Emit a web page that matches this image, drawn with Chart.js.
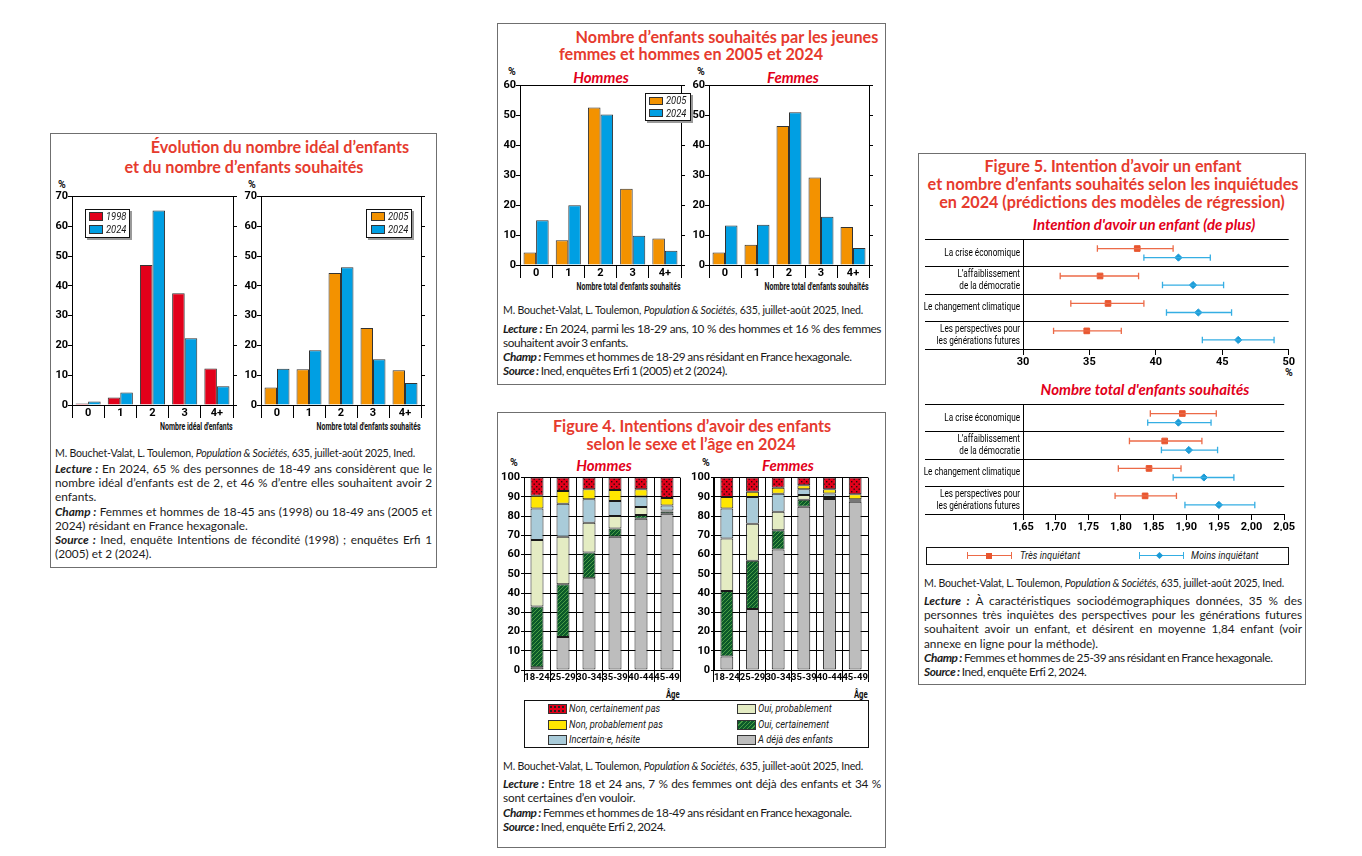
<!DOCTYPE html>
<html lang="fr">
<head>
<meta charset="utf-8">
<title>Enfants souhaités et intentions de fécondité</title>
<script src="https://cdn.jsdelivr.net/npm/chart.js@4.4.1/dist/chart.umd.min.js"></script>
<style>
body{margin:0;background:#fff;width:1362px;height:856px;position:relative;overflow:hidden;font-family:Lato,Roboto,sans-serif;color:#1a1a1a}
.panel{position:absolute;border:1px solid #6f6f6f;box-sizing:border-box}
.line{position:absolute;white-space:nowrap;text-align:center;width:440px;line-height:18px}
.title{color:#e63b2e;font-weight:bold;font-size:16.2px}
.sub{color:#e2001a;font-weight:bold;font-style:italic;font-size:15px}
.cond{font-family:Roboto,sans-serif}
.lbl{position:absolute;white-space:nowrap;font-weight:bold;font-size:10.5px;line-height:12px;color:#111}
.narrow{font-size:10px;transform:scaleX(0.7);transform-origin:right center}
canvas{position:absolute}
.txt{position:absolute;font-size:11.8px;line-height:14.2px;text-align:justify}
.txt p{margin:0}
.txt .tight{letter-spacing:-0.4px;word-spacing:-0.5px}
.txt .semi{letter-spacing:-0.2px}
.txt .cite{font-size:10.6px;line-height:14px;text-align:left;letter-spacing:-0.2px}
.txt b{font-style:italic}
.leg{position:absolute;border:1.3px solid #111;background:#fff;box-shadow:2px 2px 0 #9a9a9a;box-sizing:border-box}
.sw{position:absolute;border:1px solid #333;box-sizing:border-box}
.lt{position:absolute;white-space:nowrap;font-style:italic;font-size:11px;line-height:12px}
.lt2{transform:scaleX(0.85);transform-origin:left center}
</style>
</head>
<body>

<!-- panneau 1 -->
<div class="panel" style="left:50px;top:133px;width:387px;height:435px"></div>
<div class="line title" style="left:60px;top:138px">Évolution du nombre idéal d’enfants</div>
<div class="line title" style="left:24px;top:158px">et du nombre d’enfants souhaités</div>
<div class="lbl cond" style="left:58px;top:179px">%</div>
<div class="lbl cond" style="left:248px;top:179px">%</div>
<canvas id="ideal" width="188" height="230" style="left:52px;top:190px"></canvas>
<canvas id="souhait" width="188" height="230" style="left:241px;top:190px"></canvas>
<div class="lbl cond narrow" style="right:1129px;top:421px">Nombre idéal d'enfants</div>
<div class="lbl cond narrow" style="right:941px;top:421px">Nombre total d'enfants souhaités</div>
<div class="leg" style="left:85px;top:209px;width:45px;height:29px">
  <div class="sw" style="left:3px;top:2px;width:14px;height:9px;background:#e2001a"></div>
  <div class="lt lt2 cond" style="left:20px;top:1px">1998</div>
  <div class="sw" style="left:3px;top:15px;width:14px;height:9px;background:#009fe3"></div>
  <div class="lt lt2 cond" style="left:20px;top:14px">2024</div>
</div>
<div class="leg" style="left:366px;top:209px;width:46px;height:29px">
  <div class="sw" style="left:4px;top:2px;width:14px;height:9px;background:#f39200"></div>
  <div class="lt lt2 cond" style="left:21px;top:1px">2005</div>
  <div class="sw" style="left:4px;top:15px;width:14px;height:9px;background:#009fe3"></div>
  <div class="lt lt2 cond" style="left:21px;top:14px">2024</div>
</div>
<div class="txt" style="left:55px;top:446px;width:377px">
  <p class="cite" style="margin-bottom:2px">M. Bouchet-Valat, L. Toulemon, <i>Population &amp; Sociétés</i>, 635, juillet-août 2025, Ined.</p>
  <p><b>Lecture :</b> En 2024, 65&nbsp;% des personnes de 18-49 ans considèrent que le nombre idéal d’enfants est de 2, et 46&nbsp;% d’entre elles souhaitent avoir 2 enfants.</p>
  <p><b>Champ :</b> Femmes et hommes de 18-45 ans (1998) ou 18-49 ans (2005 et 2024) résidant en France hexagonale.</p>
  <p><b>Source :</b> Ined, enquête Intentions de fécondité (1998) ; enquêtes Erfi 1 (2005) et 2 (2024).</p>
</div>

<!-- panneau 2 -->
<div class="panel" style="left:497px;top:23px;width:389px;height:362px"></div>
<div class="line title" style="left:507px;top:28px">Nombre d’enfants souhaités par les jeunes</div>
<div class="line title" style="left:471px;top:45px">femmes et hommes en 2005 et 2024</div>
<div class="line sub" style="left:381px;top:68px">Hommes</div>
<div class="line sub" style="left:573px;top:68px">Femmes</div>
<div class="lbl cond" style="left:508px;top:66px">%</div>
<div class="lbl cond" style="left:697px;top:66px">%</div>
<canvas id="hommes" width="188" height="201" style="left:500px;top:79px"></canvas>
<canvas id="femmes" width="188" height="201" style="left:689px;top:79px"></canvas>
<div class="lbl cond narrow" style="right:681px;top:281px">Nombre total d'enfants souhaités</div>
<div class="lbl cond narrow" style="right:493px;top:281px">Nombre total d'enfants souhaités</div>
<div class="leg" style="left:645px;top:93px;width:46px;height:28px">
  <div class="sw" style="left:3px;top:3px;width:14px;height:8px;background:#f39200"></div>
  <div class="lt lt2 cond" style="left:20px;top:1px">2005</div>
  <div class="sw" style="left:3px;top:15px;width:14px;height:8px;background:#009fe3"></div>
  <div class="lt lt2 cond" style="left:20px;top:14px">2024</div>
</div>
<div class="txt" style="left:503px;top:303px;width:378px;line-height:14px">
  <p class="cite" style="margin-bottom:5px">M. Bouchet-Valat, L. Toulemon, <i>Population &amp; Sociétés</i>, 635, juillet-août 2025, Ined.</p>
  <p class="tight"><b>Lecture :</b> En 2024, parmi les 18-29 ans, 10&nbsp;% des hommes et 16&nbsp;% des femmes souhaitent avoir 3 enfants.</p>
  <p class="tight"><b>Champ :</b> Femmes et hommes de 18-29 ans résidant en France hexagonale.</p>
  <p class="tight"><b>Source :</b> Ined, enquêtes Erfi 1 (2005) et 2 (2024).</p>
</div>

<!-- panneau 3 -->
<div class="panel" style="left:497px;top:412px;width:389px;height:436px"></div>
<div class="line title" style="left:472px;top:417px">Figure 4. Intentions d’avoir des enfants</div>
<div class="line title" style="left:471px;top:435px">selon le sexe et l’âge en 2024</div>
<div class="line sub" style="left:384px;top:456px">Hommes</div>
<div class="line sub" style="left:568px;top:456px">Femmes</div>
<div class="lbl cond" style="left:510px;top:457px">%</div>
<div class="lbl cond" style="left:702px;top:457px">%</div>
<canvas id="f4hommes" width="186" height="214" style="left:500px;top:470px"></canvas>
<canvas id="f4femmes" width="184" height="214" style="left:690px;top:470px"></canvas>
<div class="lbl cond narrow" style="right:682px;top:689px;font-size:11px">Âge</div>
<div class="lbl cond narrow" style="right:494px;top:689px;font-size:11px">Âge</div>
<div style="position:absolute;left:524px;top:700px;width:345px;height:48px;border:1.3px solid #111;box-sizing:border-box"></div>
<div class="sw" style="left:548px;top:704px;width:19px;height:10px;background:#e2001a radial-gradient(circle,#222 0.9px,transparent 1.3px) 0 0/4px 4px"></div>
<div class="lt lt2 cond" style="left:569px;top:703px">Non, certainement pas</div>
<div class="sw" style="left:548px;top:720px;width:19px;height:10px;background:#ffe600"></div>
<div class="lt lt2 cond" style="left:569px;top:719px">Non, probablement pas</div>
<div class="sw" style="left:548px;top:735px;width:19px;height:10px;background:#a9cbd9"></div>
<div class="lt lt2 cond" style="left:569px;top:734px">Incertain·e, hésite</div>
<div class="sw" style="left:737px;top:704px;width:19px;height:10px;background:#e4ecc3"></div>
<div class="lt lt2 cond" style="left:758px;top:703px">Oui, probablement</div>
<div class="sw" style="left:737px;top:720px;width:19px;height:10px;background:repeating-linear-gradient(-45deg,#0c5a2a 0 2px,#4a9c44 2px 3px)"></div>
<div class="lt lt2 cond" style="left:758px;top:719px">Oui, certainement</div>
<div class="sw" style="left:737px;top:735px;width:19px;height:10px;background:#bdbdbd"></div>
<div class="lt lt2 cond" style="left:758px;top:734px">A déjà des enfants</div>
<div class="txt" style="left:503px;top:759px;width:378px;line-height:14.3px">
  <p class="cite" style="margin-bottom:4px">M. Bouchet-Valat, L. Toulemon, <i>Population &amp; Sociétés</i>, 635, juillet-août 2025, Ined.</p>
  <p class="semi"><b>Lecture :</b> Entre 18 et 24 ans, 7&nbsp;% des femmes ont déjà des enfants et 34&nbsp;% sont certaines d’en vouloir.</p>
  <p class="tight"><b>Champ :</b> Femmes et hommes de 18-49 ans résidant en France hexagonale.</p>
  <p class="tight"><b>Source :</b> Ined, enquête Erfi 2, 2024.</p>
</div>

<!-- panneau 4 -->
<div class="panel" style="left:918px;top:153px;width:388px;height:532px"></div>
<div class="line title" style="left:893px;top:157px">Figure 5. Intention d’avoir un enfant</div>
<div class="line title" style="left:893px;top:175px">et nombre d’enfants souhaités selon les inquiétudes</div>
<div class="line title" style="left:892px;top:193px">en 2024 (prédictions des modèles de régression)</div>
<div class="line sub" style="left:924px;top:215px">Intention d'avoir un enfant (de plus)</div>
<canvas id="intention" width="372" height="134" style="left:924px;top:232px"></canvas>
<div class="lbl cond" style="left:1285px;top:367px">%</div>
<div class="line sub" style="left:925px;top:380px">Nombre total d'enfants souhaités</div>
<canvas id="nombre" width="372" height="134" style="left:924px;top:397px"></canvas>
<div style="position:absolute;left:926px;top:547px;width:363px;height:18px;border:1.2px solid #111;box-sizing:border-box"></div>
<div style="position:absolute;left:967px;top:555px;width:45px;height:1.3px;background:#ec6a47"></div>
<div style="position:absolute;left:967px;top:552px;width:1.3px;height:7px;background:#ec6a47"></div>
<div style="position:absolute;left:1011px;top:552px;width:1.3px;height:7px;background:#ec6a47"></div>
<div style="position:absolute;left:986px;top:553px;width:6px;height:6px;background:#e8562f"></div>
<div class="lt lt2 cond" style="left:1020px;top:550px">Très inquiétant</div>
<div style="position:absolute;left:1139px;top:555px;width:45px;height:1.3px;background:#35aee3"></div>
<div style="position:absolute;left:1139px;top:552px;width:1.3px;height:7px;background:#35aee3"></div>
<div style="position:absolute;left:1183px;top:552px;width:1.3px;height:7px;background:#35aee3"></div>
<div style="position:absolute;left:1157px;top:553px;width:5px;height:5px;background:#1a9ad6;transform:rotate(45deg)"></div>
<div class="lt lt2 cond" style="left:1191px;top:550px">Moins inquiétant</div>
<div class="txt" style="left:924px;top:576px;width:378px">
  <p class="cite" style="margin-bottom:4px">M. Bouchet-Valat, L. Toulemon, <i>Population &amp; Sociétés</i>, 635, juillet-août 2025, Ined.</p>
  <p><b>Lecture :</b> À caractéristiques sociodémographiques données, 35&nbsp;% des personnes très inquiètes des perspectives pour les générations futures souhaitent avoir un enfant, et désirent en moyenne 1,84 enfant (voir annexe en ligne pour la méthode).</p>
  <p class="tight"><b>Champ :</b> Femmes et hommes de 25-39 ans résidant en France hexagonale.</p>
  <p class="tight"><b>Source :</b> Ined, enquête Erfi 2, 2024.</p>
</div>

<script>
var RED = '#e2001a', BLUE = '#009fe3', ORANGE = '#f39200';

// nombre d'enfants (panneaux 1 et 2)
var nbLabels = ['0', '1', '2', '3', '4+'];
var ideal1998 = [0.5, 2.5, 47.0, 37.5, 12.3];
var ideal2024 = [1.2, 4.2, 65.3, 22.4, 6.3];
var souhait2005 = [5.9, 12.0, 44.3, 25.9, 11.7];
var souhait2024 = [12.2, 18.4, 46.3, 15.4, 7.4];
var hommes2005 = [4.2, 8.3, 52.7, 25.5, 8.9];
var hommes2024 = [15.0, 20.0, 50.3, 9.8, 4.8];
var femmes2005 = [4.2, 6.8, 46.5, 29.3, 12.7];
var femmes2024 = [13.2, 13.5, 51.1, 16.1, 5.7];

// figure 4 : intentions par âge
var ages = ['18-24', '25-29', '30-34', '35-39', '40-44', '45-49'];
var hommesDeja = [1.4, 17.2, 47.7, 69.3, 78.6, 81.2];
var hommesOuiCert = [31.6, 27.4, 13.4, 4.3, 2.0, 1.2];
var hommesOuiProb = [34.6, 24.7, 15.4, 6.5, 4.1, 0.5];
var hommesIncert = [16.3, 17.1, 12.2, 7.7, 5.5, 2.6];
var hommesNonProb = [6.7, 6.7, 5.3, 5.7, 3.8, 3.9];
var hommesNonCert = [9.4, 6.9, 6.0, 6.5, 6.0, 10.6];
var femmesDeja = [7.0, 31.7, 62.6, 84.9, 88.9, 87.5];
var femmesOuiCert = [34.0, 25.1, 10.1, 3.6, 0.5, 0.5];
var femmesOuiProb = [27.3, 19.2, 9.6, 2.4, 0.6, 0.3];
var femmesIncert = [15.7, 13.9, 9.3, 3.1, 1.8, 0.4];
var femmesNonProb = [5.9, 2.7, 3.1, 2.0, 2.2, 2.6];
var femmesNonCert = [10.1, 7.4, 5.3, 4.0, 6.0, 8.7];

// figure 5 : prédictions selon les inquiétudes
var inquietudes = [['La crise économique'], ['L\u2019affaiblissement', 'de la démocratie'], ['Le changement climatique'], ['Les perspectives pour', 'les générations futures']];
var intentTres = [38.6, 35.8, 36.4, 34.8];
var intentTresBas = [35.6, 32.8, 33.6, 32.3];
var intentTresHaut = [41.3, 38.7, 39.1, 37.4];
var intentMoins = [41.7, 42.8, 43.2, 46.2];
var intentMoinsBas = [39.1, 40.5, 40.8, 43.5];
var intentMoinsHaut = [44.1, 45.1, 45.7, 48.9];
var nbTres = [1.894, 1.867, 1.843, 1.837];
var nbTresBas = [1.845, 1.813, 1.796, 1.791];
var nbTresHaut = [1.946, 1.924, 1.892, 1.885];
var nbMoins = [1.888, 1.904, 1.927, 1.950];
var nbMoinsBas = [1.841, 1.862, 1.880, 1.898];
var nbMoinsHaut = [1.938, 1.948, 1.973, 2.005];

Chart.defaults.font.family = 'Roboto, sans-serif';
Chart.defaults.color = '#000';
Chart.defaults.animation = false;
Chart.defaults.plugins.legend.display = false;
Chart.defaults.plugins.tooltip.enabled = false;

var tickFont = { size: 11, weight: 'bold' };

function groupedBars(id, first, firstColor, second, yMax, padRight) {
    return new Chart(document.getElementById(id), {
        type: 'bar',
        data: {
            labels: nbLabels,
            datasets: [
                { data: first, backgroundColor: firstColor, borderColor: '#333', borderWidth: 1, categoryPercentage: 0.78, barPercentage: 1 },
                { data: second, backgroundColor: BLUE, borderColor: '#333', borderWidth: 1, categoryPercentage: 0.78, barPercentage: 1 }
            ]
        },
        options: {
            responsive: false,
            layout: { padding: { top: 6, right: padRight, left: 0, bottom: 0 } },
            scales: {
                x: {
                    grid: { offset: true, drawOnChartArea: false, tickLength: 13, color: '#000' },
                    border: { color: '#000' },
                    ticks: { padding: -11, font: tickFont },
                    afterFit: function (s) { s.height = 15; }
                },
                y: {
                    min: 0, max: yMax,
                    ticks: { stepSize: 10, padding: 0, font: tickFont },
                    grid: { drawOnChartArea: false, tickLength: 4, color: '#000' },
                    border: { color: '#000' },
                    afterFit: function (s) { s.width = 20; }
                },
                droite: {
                    type: 'linear', position: 'right', min: 0, max: yMax,
                    ticks: { display: false, stepSize: 10 },
                    grid: { drawOnChartArea: false, tickLength: 4, color: '#000' },
                    border: { color: '#000' },
                    afterFit: function (s) { s.width = 0; }
                },
                haut: {
                    type: 'linear', position: 'top',
                    ticks: { display: false },
                    grid: { display: false },
                    border: { color: '#000' },
                    afterFit: function (s) { s.height = 0; }
                }
            }
        }
    });
}

groupedBars('ideal', ideal1998, RED, ideal2024, 70, 7);
groupedBars('souhait', souhait2005, ORANGE, souhait2024, 70, 8);
groupedBars('hommes', hommes2005, ORANGE, hommes2024, 60, 7);
groupedBars('femmes', femmes2005, ORANGE, femmes2024, 60, 8);

// motifs pour la figure 4
function dotPattern() {
    var c = document.createElement('canvas');
    c.width = 5; c.height = 5;
    var g = c.getContext('2d');
    g.fillStyle = RED; g.fillRect(0, 0, 5, 5);
    g.fillStyle = '#2a0a0a';
    g.fillRect(1, 1, 1.4, 1.4);
    g.fillRect(3.5, 3.5, 1.4, 1.4);
    return g.createPattern(c, 'repeat');
}
function hatchPattern() {
    var c = document.createElement('canvas');
    c.width = 4; c.height = 4;
    var g = c.getContext('2d');
    g.fillStyle = '#0c5a2a'; g.fillRect(0, 0, 4, 4);
    g.strokeStyle = '#4a9c44'; g.lineWidth = 1;
    g.beginPath();
    g.moveTo(0, 4); g.lineTo(4, 0);
    g.moveTo(-1, 1); g.lineTo(1, -1);
    g.moveTo(3, 5); g.lineTo(5, 3);
    g.stroke();
    return g.createPattern(c, 'repeat');
}

function stackedAges(id, parts) {
    var fills = ['#bdbdbd', hatchPattern(), '#e4ecc3', '#a9cbd9', '#ffe600', dotPattern()];
    return new Chart(document.getElementById(id), {
        type: 'bar',
        data: {
            labels: ages,
            datasets: parts.map(function (values, k) {
                return { data: values, backgroundColor: fills[k], borderColor: '#1a1a1a', borderWidth: 1, borderSkipped: false, barPercentage: 0.5, categoryPercentage: 1 };
            })
        },
        options: {
            responsive: false,
            layout: { padding: { top: 6, right: 6, left: 0, bottom: 0 } },
            scales: {
                x: {
                    stacked: true,
                    grid: { offset: true, color: '#000', tickLength: 12 },
                    border: { color: '#000' },
                    ticks: { padding: -10, autoSkip: false, minRotation: 0, maxRotation: 0, font: { size: 9.5, weight: 'bold' } },
                    afterFit: function (s) { s.height = 14; }
                },
                y: {
                    stacked: true, min: 0, max: 100,
                    ticks: { stepSize: 10, padding: 1, font: tickFont },
                    grid: { color: '#000', tickLength: 3 },
                    border: { color: '#000' },
                    afterFit: function (s) { s.width = 24; }
                }
            }
        }
    });
}

stackedAges('f4hommes', [hommesDeja, hommesOuiCert, hommesOuiProb, hommesIncert, hommesNonProb, hommesNonCert]);
stackedAges('f4femmes', [femmesDeja, femmesOuiCert, femmesOuiProb, femmesIncert, femmesNonProb, femmesNonCert]);

// figure 5 : points et intervalles
var TRES = '#e8562f', TRES_LINE = '#ec6a47', MOINS = '#1a9ad6', MOINS_LINE = '#35aee3';

function intervalSets(mean, low, high, color, lineColor, offset, style, radius) {
    var sets = [];
    for (var i = 0; i < mean.length; i++) {
        sets.push({
            data: [{ x: low[i], y: i + offset }, { x: high[i], y: i + offset }],
            showLine: true, borderColor: lineColor, borderWidth: 1.3,
            pointStyle: 'line', pointRotation: 90, pointRadius: 3.2,
            pointBorderColor: lineColor, pointBorderWidth: 1.3
        });
    }
    sets.push({
        data: mean.map(function (v, i) { return { x: v, y: i + offset }; }),
        showLine: false, pointStyle: style, pointRadius: radius,
        pointBackgroundColor: color, pointBorderColor: color, pointBorderWidth: 1
    });
    return sets;
}

// libellés des lignes, serrés horizontalement, centrés sur chaque rangée de l'axe y
var rowLabels = {
    id: 'rowLabels',
    afterDraw: function (chart) {
        var ctx = chart.ctx, y = chart.scales.y, left = chart.chartArea.left;
        ctx.save();
        ctx.font = '10.5px Roboto, sans-serif';
        ctx.fillStyle = '#000';
        ctx.textAlign = 'right';
        ctx.textBaseline = 'middle';
        inquietudes.forEach(function (lines, i) {
            var cy = y.getPixelForValue(i + 0.5);
            lines.forEach(function (t, k) {
                ctx.save();
                ctx.translate(left - 3, cy + (k - (lines.length - 1) / 2) * 11.7);
                ctx.scale(0.78, 1);
                ctx.fillText(t, 0, 0);
                ctx.restore();
            });
        });
        ctx.restore();
    }
};

function riskChart(id, series, xMin, xMax, step, fmt, padRight) {
    return new Chart(document.getElementById(id), {
        type: 'scatter',
        data: {
            datasets: intervalSets(series[0], series[1], series[2], TRES, TRES_LINE, 0.34, 'rect', 4)
                .concat(intervalSets(series[3], series[4], series[5], MOINS, MOINS_LINE, 0.67, 'rectRot', 3.6))
        },
        plugins: [rowLabels],
        options: {
            responsive: false,
            layout: { padding: { top: 5, right: padRight, left: 0, bottom: 0 } },
            scales: {
                x: {
                    type: 'linear', min: xMin, max: xMax,
                    ticks: { stepSize: step, padding: 1, font: tickFont, callback: fmt },
                    grid: { drawOnChartArea: false, tickLength: 6, color: '#000' },
                    border: { color: '#000' },
                    afterFit: function (s) { s.height = 17; }
                },
                y: {
                    type: 'linear', reverse: true, min: 0, max: 4,
                    ticks: { stepSize: 1, padding: 0, callback: function () { return ''; } },
                    grid: { tickLength: 98, color: '#000' },
                    border: { color: '#000' },
                    afterFit: function (s) { s.width = 99; }
                }
            }
        }
    });
}

riskChart('intention', [intentTres, intentTresBas, intentTresHaut, intentMoins, intentMoinsBas, intentMoinsHaut],
    30, 50, 5, function (v) { return String(v); }, 6);
riskChart('nombre', [nbTres, nbTresBas, nbTresHaut, nbMoins, nbMoinsBas, nbMoinsHaut],
    1.65, 2.05, 0.05, function (v) { return v.toFixed(2).replace('.', ','); }, 7);
</script>
</body>
</html>
